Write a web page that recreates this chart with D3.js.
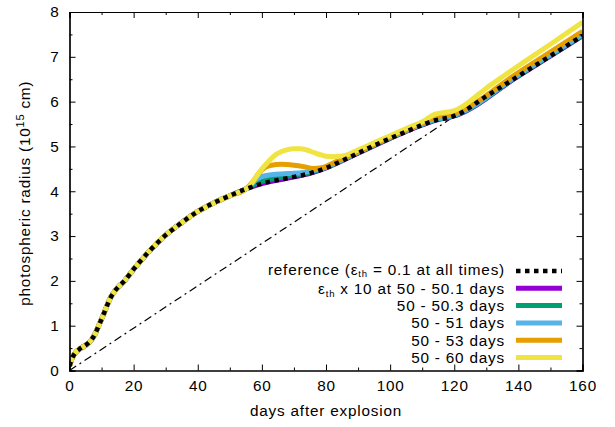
<!DOCTYPE html>
<html><head><meta charset="utf-8">
<script src="https://cdn.jsdelivr.net/npm/d3@7"></script>
<style>body{margin:0;background:#fff}svg{display:block;font-family:"Liberation Sans",Arial,sans-serif}</style>
</head><body><svg id="c" width="615" height="427"></svg>
<script>
// reference curve
const refDays = [0,1,2,3,4,5,6,7,8,9,10,11,12,13,14,15,17,20,25,30,35,40,45,50,55,60,65,70,75,80,85,90,95,100,105,110,115,118,120,130,140,150,160];
const refVals = [0.1,0.3,0.41,0.47,0.52,0.56,0.62,0.7,0.82,0.98,1.15,1.32,1.5,1.65,1.76,1.85,1.99,2.26,2.67,3.02,3.3,3.55,3.74,3.9,4.05,4.17,4.25,4.32,4.4,4.52,4.68,4.85,5.02,5.18,5.33,5.48,5.6,5.64,5.68,6.12,6.57,7.02,7.47];
// variants (from day 50 on; earlier identical to reference)
const d501Days = [50,55,60,65,70,75,80,85,90,100,110,115,118,120,140,160];
const d501Vals = [3.9,4.05,4.17,4.25,4.32,4.4,4.52,4.68,4.85,5.18,5.48,5.6,5.64,5.68,6.57,7.47];
const d503Days = [50,55,57,60,65,70,75,80,85,90,100,110,115,118,120,140,160];
const d503Vals = [3.9,4.05,4.13,4.22,4.3,4.36,4.42,4.53,4.69,4.86,5.19,5.49,5.61,5.65,5.69,6.58,7.48];
const d51Days = [50,55,56,58,60,63,67,70,73,76,80,85,90,100,110,115,118,120,140,160];
const d51Vals = [3.9,4.05,4.1,4.25,4.33,4.37,4.39,4.4,4.42,4.46,4.54,4.7,4.87,5.2,5.5,5.62,5.66,5.7,6.6,7.5];
const d53Days = [50,55,57,59,61,63,66,70,73,76,79,82,85,90,100,110,115,118,120,140,160];
const d53Vals = [3.9,4.05,4.2,4.4,4.53,4.58,4.6,4.58,4.55,4.51,4.53,4.62,4.72,4.88,5.21,5.52,5.67,5.7,5.74,6.65,7.57];
const d60Days = [50,55,56,58,60,62,64,66,68,70,72,74,76,78,80,82,84,86,90,95,100,105,110,114,118,120,130,140,150,160];
const d60Vals = [3.9,4.05,4.1,4.3,4.5,4.66,4.8,4.88,4.93,4.95,4.95,4.92,4.87,4.82,4.78,4.77,4.78,4.8,4.92,5.08,5.24,5.4,5.55,5.72,5.77,5.8,6.3,6.8,7.28,7.77];
// r = v t guide line
const guideDays = [0,118.5];
const guideVals = [0,5.6];

const seriesNames = ["\u03b5th x 10 at 50 - 50.1 days","50 - 50.3 days","50 - 51 days","50 - 53 days","50 - 60 days"];
const seriesColors = ["#9400d3","#009e73","#56b4e9","#e69f00","#f0e442"];
const xTicks = [0,20,40,60,80,100,120,140,160];
const yTicks = [0,1,2,3,4,5,6,7,8];

const FS = 15.3, LS = "0.8px";
const svg = d3.select("#c");
const L=69.5,R=582.5,T=12,B=370.5;
const x = d3.scaleLinear().domain([0,160]).range([L,R]);
const y = d3.scaleLinear().domain([0,8]).range([B,T]);

const early = refDays.map((d,i)=>[d,refVals[i]]).filter(p=>p[0]<50);
const mk = (ds,vs)=>early.concat(ds.map((d,i)=>[d,vs[i]]));
const series = [mk(d501Days,d501Vals),mk(d503Days,d503Vals),mk(d51Days,d51Vals),mk(d53Days,d53Vals),mk(d60Days,d60Vals)];
const line = d3.line().x(d=>x(d[0])).y(d=>y(d[1])).curve(d3.curveMonotoneX);

svg.append("clipPath").attr("id","cp").append("rect").attr("x",L).attr("y",T).attr("width",R-L).attr("height",B-T);
const g = svg.append("g").attr("clip-path","url(#cp)");

g.append("path").datum(guideDays.map((d,i)=>[d,guideVals[i]])).attr("d",d3.line().x(d=>x(d[0])).y(d=>y(d[1])))
  .attr("fill","none").attr("stroke","#000").attr("stroke-width",1.2).attr("stroke-dasharray","8,4,2,4");

series.forEach((s,i)=>{
  g.append("path").datum(s).attr("d",line).attr("fill","none").attr("stroke",seriesColors[i]).attr("stroke-width",5).attr("stroke-linejoin","round");
});
g.append("path").datum(refDays.map((d,i)=>[d,refVals[i]])).attr("d",line).attr("fill","none")
  .attr("stroke","#000").attr("stroke-width",4.5).attr("stroke-dasharray","4.5,4.5");

// axes frame
const fr = svg.append("g");
fr.append("g").attr("transform",`translate(0,${B})`).call(d3.axisBottom(x).tickValues(xTicks).tickSize(-6).tickPadding(10).tickFormat(d3.format("d")));
fr.append("g").attr("transform",`translate(0,${T})`).call(d3.axisTop(x).tickValues(xTicks).tickSize(-6).tickFormat(""));
fr.append("g").attr("transform",`translate(${L},0)`).call(d3.axisLeft(y).tickValues(yTicks).tickSize(-6).tickPadding(10).tickFormat(d3.format("d")));
fr.append("g").attr("transform",`translate(${R},0)`).call(d3.axisRight(y).tickValues(yTicks).tickSize(-6).tickFormat(""));
const xMinor = d3.range(10,160,20), yMinor = d3.range(0.5,8,1);
fr.append("g").attr("transform",`translate(0,${B})`).call(d3.axisBottom(x).tickValues(xMinor).tickSize(-3).tickFormat(""));
fr.append("g").attr("transform",`translate(0,${T})`).call(d3.axisTop(x).tickValues(xMinor).tickSize(-3).tickFormat(""));
fr.append("g").attr("transform",`translate(${L},0)`).call(d3.axisLeft(y).tickValues(yMinor).tickSize(-3).tickFormat(""));
fr.append("g").attr("transform",`translate(${R},0)`).call(d3.axisRight(y).tickValues(yMinor).tickSize(-3).tickFormat(""));
fr.selectAll(".domain").attr("stroke","#000").attr("stroke-width",1.2);
fr.selectAll(".tick line").attr("stroke","#000");
fr.selectAll(".tick text").attr("font-size",FS).attr("letter-spacing",LS).attr("fill","#000").attr("font-family","Liberation Sans, Arial, sans-serif");

// titles
svg.append("text").attr("x",(L+R)/2).attr("y",416).attr("text-anchor","middle").attr("font-size",FS).attr("letter-spacing",LS).text("days after explosion");
const yt = svg.append("text").attr("transform",`translate(30,${(T+B)/2+2}) rotate(-90)`).attr("text-anchor","middle").attr("font-size",FS).attr("letter-spacing",LS);
yt.append("tspan").text("photospheric radius (10");
yt.append("tspan").attr("dy",-6).attr("font-size",11).text("15");
yt.append("tspan").attr("dy",6).text(" cm)");

// legend
const lx = 505, sx0=516, sx1=562, ly0=271, dy=17.3;
const l0 = svg.append("text").attr("x",lx).attr("y",ly0-1.5).attr("dy","0.35em").attr("text-anchor","end").attr("font-size",FS).attr("letter-spacing",LS);
l0.append("tspan").text("reference (\u03b5");
l0.append("tspan").attr("dy",2.5).attr("font-size",9.5).text("th");
l0.append("tspan").attr("dy",-2.5).text(" = 0.1 at all times)");
svg.append("line").attr("x1",sx0).attr("x2",sx1).attr("y1",ly0).attr("y2",ly0).attr("stroke","#000").attr("stroke-width",4.5).attr("stroke-dasharray","4.5,4.5");
seriesNames.forEach((n,i)=>{
  const yy = ly0+dy*(i+1);
  const t = svg.append("text").attr("x",lx).attr("y",yy).attr("dy","0.35em").attr("text-anchor","end").attr("font-size",FS).attr("letter-spacing",LS);
  if(i===0){
    t.append("tspan").text("\u03b5");
    t.append("tspan").attr("dy",3).attr("font-size",9.5).text("th");
    t.append("tspan").attr("dy",-3).text(" x 10 at 50 - 50.1 days");
  } else t.text(n);
  svg.append("line").attr("x1",sx0).attr("x2",sx1).attr("y1",yy).attr("y2",yy).attr("stroke",seriesColors[i]).attr("stroke-width",5);
});
</script></body></html>
